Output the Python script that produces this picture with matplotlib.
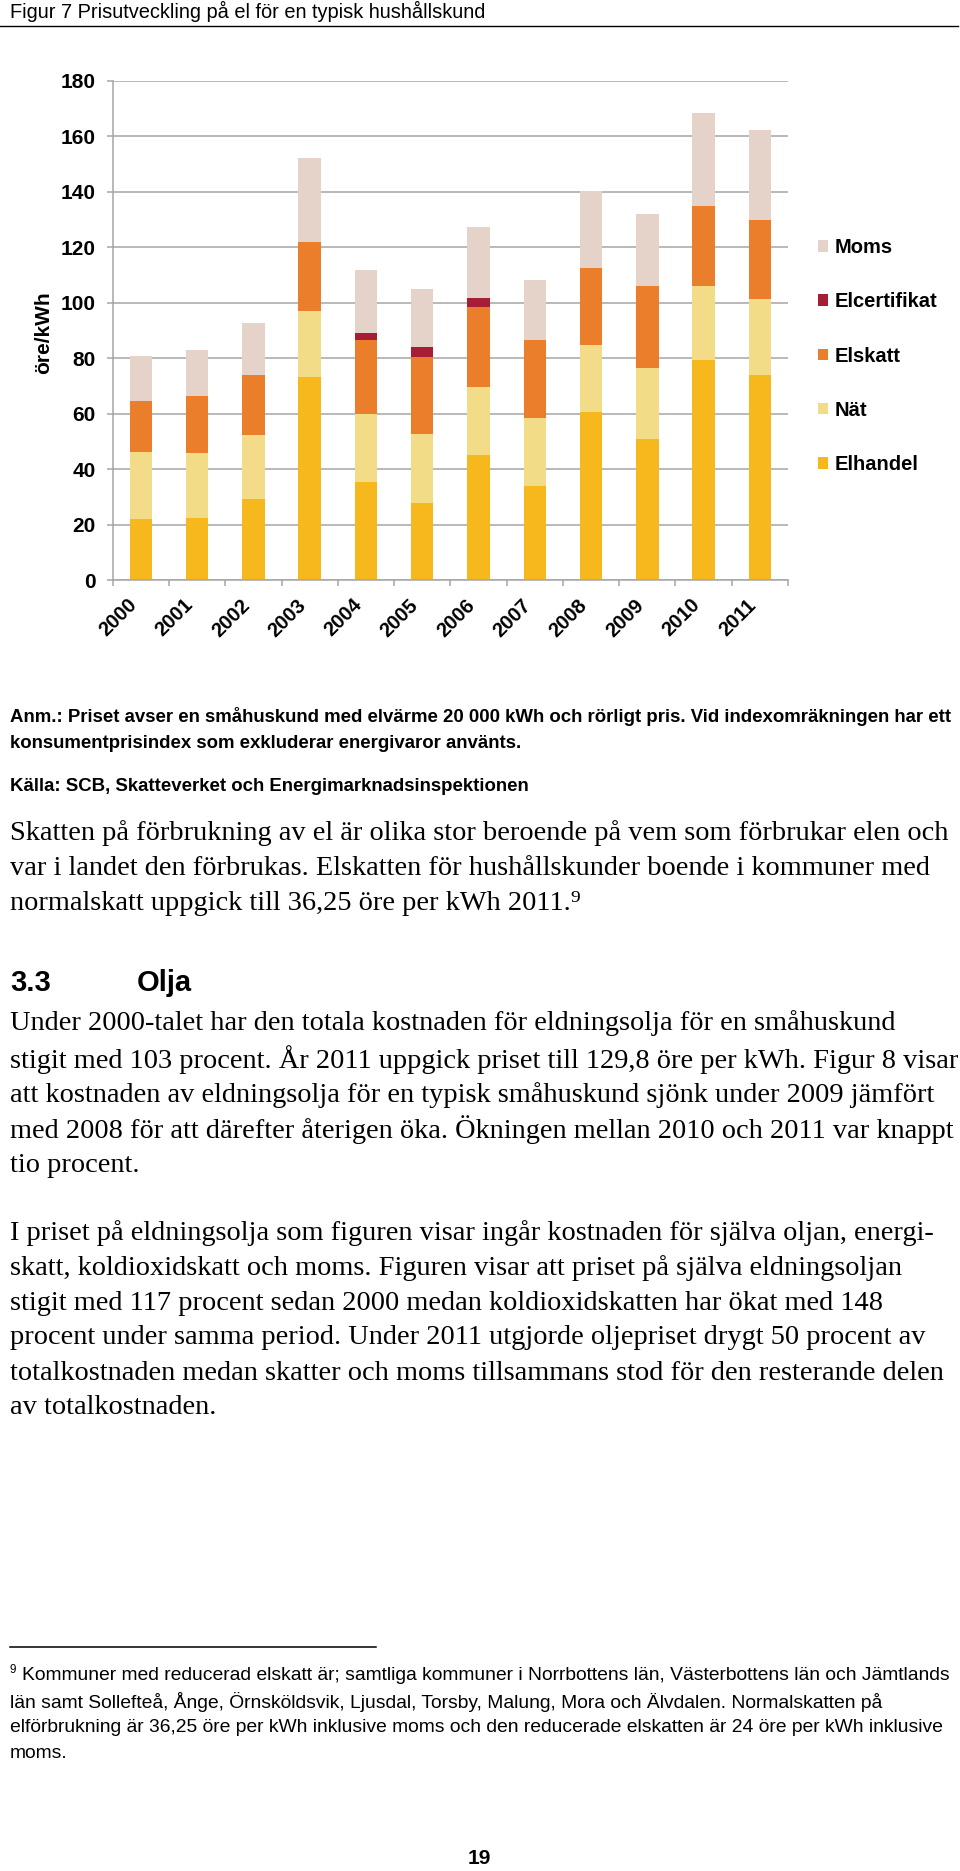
import numpy as np
import matplotlib
matplotlib.use("Agg")
import matplotlib.pyplot as plt
from matplotlib.lines import Line2D

# --- data (öre/kWh) ---
years = ['2000', '2001', '2002', '2003', '2004', '2005',
         '2006', '2007', '2008', '2009', '2010', '2011']
elhandel = [22.0, 22.3, 29.2, 73.3, 35.4, 27.6, 45.0, 33.8, 60.6, 51.0, 79.4, 73.9]
nat = [24.0, 23.6, 23.0, 23.7, 24.6, 24.9, 24.7, 24.5, 24.1, 25.6, 26.8, 27.6]
elskatt = [18.7, 20.4, 21.8, 24.9, 26.4, 28.0, 28.6, 28.1, 27.7, 29.4, 28.6, 28.4]
elcert = [0, 0, 0, 0, 2.8, 3.5, 3.6, 0, 0, 0, 0, 0]
moms = [16.1, 16.7, 18.7, 30.3, 22.6, 20.9, 25.3, 21.7, 28.1, 26.2, 33.7, 32.3]

series_names = ['Elhandel', 'Nät', 'Elskatt', 'Elcertifikat', 'Moms']
colors = ['#f6b81c', '#f2dc88', '#ea7e2b', '#a51e36', '#e5d3ca']

title = 'Figur 7 Prisutveckling på el för en typisk hushållskund'
anm = ['Anm.: Priset avser en småhuskund med elvärme 20 000 kWh och rörligt pris. Vid indexomräkningen har ett',
       'konsumentprisindex som exkluderar energivaror använts.']
kalla = 'Källa: SCB, Skatteverket och Energimarknadsinspektionen'
para1 = ['Skatten på förbrukning av el är olika stor beroende på vem som förbrukar elen och',
         'var i landet den förbrukas. Elskatten för hushållskunder boende i kommuner med',
         'normalskatt uppgick till 36,25 öre per kWh 2011.\u2079']
para2 = ['Under 2000-talet har den totala kostnaden för eldningsolja för en småhuskund',
         'stigit med 103 procent. År 2011 uppgick priset till 129,8 öre per kWh. Figur 8 visar',
         'att kostnaden av eldningsolja för en typisk småhuskund sjönk under 2009 jämfört',
         'med 2008 för att därefter återigen öka. Ökningen mellan 2010 och 2011 var knappt',
         'tio procent.']
para3 = ['I priset på eldningsolja som figuren visar ingår kostnaden för själva oljan, energi-',
         'skatt, koldioxidskatt och moms. Figuren visar att priset på själva eldningsoljan',
         'stigit med 117 procent sedan 2000 medan koldioxidskatten har ökat med 148',
         'procent under samma period. Under 2011 utgjorde oljepriset drygt 50 procent av',
         'totalkostnaden medan skatter och moms tillsammans stod för den resterande delen',
         'av totalkostnaden.']
footnote = ['Kommuner med reducerad elskatt är; samtliga kommuner i Norrbottens län, Västerbottens län och Jämtlands',
            'län samt Sollefteå, Ånge, Örnsköldsvik, Ljusdal, Torsby, Malung, Mora och Älvdalen. Normalskatten på',
            'elförbrukning är 36,25 öre per kWh inklusive moms och den reducerade elskatten är 24 öre per kWh inklusive',
            'moms.']

W, H = 960, 1871
SANS = ['Liberation Sans', 'DejaVu Sans']
SERIF = ['Liberation Serif', 'DejaVu Serif']
grey = '#a6a6a6'

fig = plt.figure(figsize=(W / 100, H / 100), dpi=100)
renderer = fig.canvas.get_renderer()


def fy(y):
    return 1 - y / H


def fit(s, width, family, weight='normal', base=20):
    t = fig.text(0, 0, s, fontsize=base, family=family, weight=weight)
    w = t.get_window_extent(renderer).width
    t.remove()
    return base * width / w


def put(x, y, s, size, family, weight='normal', **kw):
    return fig.text(x / W, fy(y), s, fontsize=size, family=family,
                    weight=weight, va='center', ha='left', **kw)


# --- chart ---
ax = fig.add_axes([112.7 / W, fy(580), 675.3 / W, (580 - 81) / H])
x = np.arange(len(years))
stack = [elhandel, nat, elskatt, elcert, moms]
bottom = np.zeros(len(years))
handles = []
for vals, name, c in zip(stack, series_names, colors):
    b = ax.bar(x, vals, 0.4, bottom=bottom, color=c, label=name, linewidth=0)
    handles.append(b)
    bottom += np.array(vals)

ax.set_xlim(-0.5, len(years) - 0.5)
ax.set_ylim(0, 180)
ax.set_yticks(np.arange(0, 181, 20))
ax.set_axisbelow(True)
ax.yaxis.grid(True, color=grey, lw=1.1)
for s in ['top', 'right']:
    ax.spines[s].set_visible(False)
for s in ['left', 'bottom']:
    ax.spines[s].set_color(grey)
    ax.spines[s].set_linewidth(1.1)

ax.set_xticks(x)
ax.set_xticklabels(years, rotation=45, ha='right', family=SANS,
                   weight='bold', fontsize=14.5)
ax.set_xticks(np.arange(-0.5, len(years), 1), minor=True)
ax.tick_params(axis='x', which='major', length=0, pad=11)
ax.tick_params(axis='x', which='minor', length=4.3, color=grey, width=1.1)
ax.tick_params(axis='y', length=4.3, color=grey, width=1.1, pad=8,
               labelsize=15)
for lab in ax.get_yticklabels():
    lab.set_family(SANS)
    lab.set_weight('bold')

fig.text(44 / W, fy(333), 'öre/kWh', rotation=90, fontsize=15, family=SANS,
         weight='bold', ha='center', va='center')

leg = ax.legend(handles[::-1], series_names[::-1], loc='center left',
                bbox_to_anchor=(818 / W, fy(356)), bbox_transform=fig.transFigure,
                frameon=False, borderpad=0, borderaxespad=0,
                handlelength=0.5, handleheight=0.5, handletextpad=0.35,
                labelspacing=1.75,
                prop={'family': SANS, 'size': 14.5, 'weight': 'bold'})

# --- page text ---
ts = fit(title, 475, SANS)
put(10, 11, title, ts, SANS)
fig.add_artist(Line2D([0, 958 / W], [fy(26), fy(26)], color='black', lw=1.0,
                      transform=fig.transFigure))

asz = fit(anm[0], 944, SANS, 'bold')
put(10, 717, anm[0], asz, SANS, 'bold')
put(10, 743, anm[1], asz, SANS, 'bold')
put(10, 787, kalla, asz, SANS, 'bold')

bsz = fit(para1[0], 938, SERIF)
for s, y in zip(para1, [833, 868, 903]):
    put(10, y, s, bsz, SERIF)

put(10, 983, '3.3', 21, SANS, weight='bold')
put(137, 983, 'Olja', 21, SANS, weight='bold')

for s, y in zip(para2, [1023, 1060, 1095, 1130, 1165]):
    put(10, y, s, bsz, SERIF)
for s, y in zip(para3, [1233, 1268, 1303, 1338, 1373, 1408]):
    put(10, y, s, bsz, SERIF)

fig.add_artist(Line2D([10 / W, 376 / W], [fy(1647), fy(1647)], color='black',
                      lw=1.1, transform=fig.transFigure))
fsz = fit(footnote[0], 928, SANS)
put(10, 1670, '9', fsz * 0.6, SANS)
for s, y in zip(footnote, [1675, 1702, 1728, 1753]):
    put(22 if y == 1675 else 10, y, s, fsz, SANS)

fig.text(479 / W, fy(1859), '19', fontsize=15, family=SANS, weight='bold',
         ha='center', va='center')

fig.savefig('out.png', dpi=100)
